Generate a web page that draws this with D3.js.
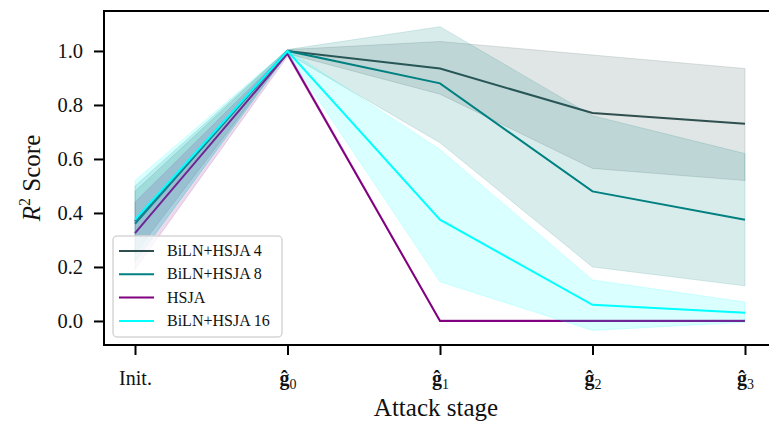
<!DOCTYPE html>
<html>
<head>
<meta charset="utf-8">
<script src="https://cdn.jsdelivr.net/npm/d3@7"></script>
<style>
  body { margin: 0; background: #fff; }
  svg { display: block; }
  svg text { font-family: "Liberation Serif", "DejaVu Serif", serif; }
</style>
</head>
<body>
<svg width="769" height="425"></svg>
<script>
// attack stages on the x axis
const stages = ["Init.", "g0", "g1", "g2", "g3"];
const yTicks = [0.0, 0.2, 0.4, 0.6, 0.8, 1.0];

const seriesNames = ["BiLN+HSJA 4", "BiLN+HSJA 8", "HSJA", "BiLN+HSJA 16"];
const seriesColors = ["#2f4f4f", "#008080", "#800080", "#00ffff"];

// mean R^2 per stage
const mean4 = [0.37, 1.0, 0.935, 0.77, 0.73];
const mean8 = [0.36, 1.0, 0.88, 0.48, 0.375];
const meanHSJA = [0.325, 0.99, 0.0, 0.0, 0.0];
const mean16 = [0.375, 1.0, 0.375, 0.06, 0.03];

// shaded band (lower / upper)
const low4 = [0.25, 0.99, 0.84, 0.565, 0.52];
const up4 = [0.48, 1.005, 1.035, 0.985, 0.935];
const low8 = [0.22, 0.99, 0.66, 0.2, 0.13];
const up8 = [0.5, 1.005, 1.09, 0.76, 0.62];
const lowHSJA = [0.19, 0.98, 0.0, 0.0, 0.0];
const upHSJA = [0.44, 1.0, 0.005, 0.005, 0.005];
const low16 = [0.22, 0.99, 0.145, -0.035, -0.005];
const up16 = [0.52, 1.005, 0.635, 0.152, 0.07];

const means = [mean4, mean8, meanHSJA, mean16];
const lows = [low4, low8, lowHSJA, low16];
const ups = [up4, up8, upHSJA, up16];

const svg = d3.select("svg");
const plot = { left: 104, right: 776, top: 11, bottom: 345 };

const x = d3.scalePoint()
    .domain(stages)
    .range([plot.left, plot.right])
    .padding(0.2033);

const y = d3.scaleLinear()
    .domain([-0.089, 1.148])
    .range([plot.bottom, plot.top]);

const g = svg.append("g");

// bands + lines, in the order matplotlib drew them
seriesNames.forEach((name, i) => {
    const rows = stages.map((s, j) => ({ s, m: means[i][j], lo: lows[i][j], hi: ups[i][j] }));
    const area = d3.area()
        .x(d => x(d.s))
        .y0(d => y(d.lo))
        .y1(d => y(d.hi));
    g.append("path")
        .datum(rows)
        .attr("d", area)
        .attr("fill", seriesColors[i])
        .attr("fill-opacity", 0.15)
        .attr("stroke", seriesColors[i])
        .attr("stroke-opacity", 0.15)
        .attr("stroke-width", 1);
    const line = d3.line()
        .x(d => x(d.s))
        .y(d => y(d.m));
    g.append("path")
        .datum(rows)
        .attr("d", line)
        .attr("fill", "none")
        .attr("stroke", seriesColors[i])
        .attr("stroke-width", 2);
});

// frame (left, top, bottom; right edge lies off the canvas)
svg.append("path")
    .attr("d", `M${plot.right},${plot.top}H${plot.left}V${plot.bottom}H${plot.right}`)
    .attr("fill", "none")
    .attr("stroke", "#000")
    .attr("stroke-width", 2);

// y axis
const yAxis = svg.append("g")
    .attr("transform", `translate(${plot.left},0)`)
    .call(d3.axisLeft(y).tickValues(yTicks).tickFormat(d3.format(".1f")).tickSize(10).tickPadding(11));
yAxis.attr("font-family", null).attr("font-size", null);
yAxis.select(".domain").remove();
yAxis.selectAll("line").attr("stroke-width", 2);
yAxis.selectAll("text").style("font-size", "20.5px").attr("fill", "#111");

// x axis
const xAxis = svg.append("g")
    .attr("transform", `translate(0,${plot.bottom})`)
    .call(d3.axisBottom(x).tickSize(10).tickFormat(""));
xAxis.attr("font-family", null).attr("font-size", null);
xAxis.select(".domain").remove();
xAxis.selectAll("line").attr("stroke-width", 2);

xAxis.selectAll(".tick").each(function (d) {
    const t = d3.select(this).append("text")
        .attr("y", 40)
        .attr("fill", "#111")
        .style("font-size", "20px")
        .attr("text-anchor", "middle");
    if (d === "Init.") {
        t.text(d);
    } else {
        t.append("tspan").attr("font-weight", "bold").text("\u011d");
        t.append("tspan").style("font-size", "14px").attr("dy", 4).text(d.slice(1));
    }
});

// axis titles
const yl = svg.append("text")
    .attr("transform", `translate(40,${(plot.top + plot.bottom) / 2}) rotate(-90)`)
    .attr("text-anchor", "middle")
    .style("font-size", "25px")
    .attr("fill", "#111");
yl.append("tspan").attr("font-style", "italic").text("R");
yl.append("tspan").style("font-size", "16px").attr("dy", -10).text("2");
yl.append("tspan").attr("dy", 10).text(" Score");

svg.append("text")
    .attr("x", 436)
    .attr("y", 416)
    .attr("text-anchor", "middle")
    .style("font-size", "25px")
    .attr("fill", "#111")
    .text("Attack stage");

// legend
const legend = svg.append("g").attr("transform", "translate(113,236)");
legend.append("rect")
    .attr("width", 169)
    .attr("height", 101)
    .attr("rx", 4)
    .attr("fill", "#fff")
    .attr("fill-opacity", 0.8)
    .attr("stroke", "#d6d6d6")
    .attr("stroke-width", 1.5);
seriesNames.forEach((name, i) => {
    const row = legend.append("g").attr("transform", `translate(0,${15 + i * 23.3})`);
    row.append("line")
        .attr("x1", 6).attr("x2", 41)
        .attr("stroke", seriesColors[i])
        .attr("stroke-width", 2);
    row.append("text")
        .attr("x", 54)
        .attr("y", 5)
        .style("font-size", "16px")
        .attr("fill", "#111")
        .text(name);
});
</script>
</body>
</html>
